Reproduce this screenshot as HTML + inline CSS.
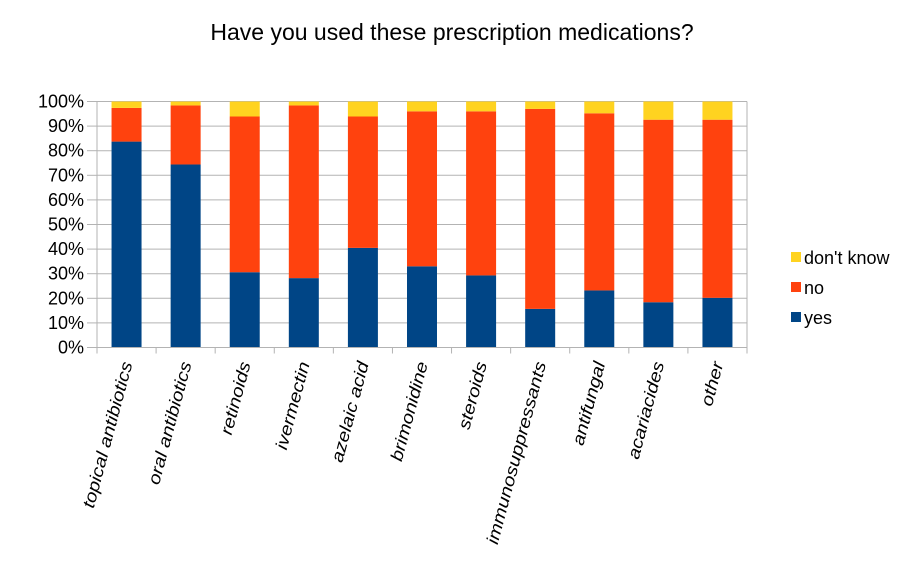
<!DOCTYPE html>
<html><head><meta charset="utf-8"><style>
body{margin:0;background:#fff;}
svg{display:block;font-family:"Liberation Sans",Arial,sans-serif;}
</style></head><body>
<svg id="chart" width="907" height="568">
<text x="452" y="40" text-anchor="middle" font-size="23" fill="#000">Have you used these prescription medications?</text>
<g id="grid"></g><g id="bars"></g><g id="axes"></g>
<g>
<rect x="791" y="252" width="10" height="10" fill="#ffd320"/>
<text x="804" y="264" font-size="18">don't know</text>
<rect x="791" y="282" width="10" height="10" fill="#ff420e"/>
<text x="804" y="294" font-size="18">no</text>
<rect x="791" y="312" width="10" height="10" fill="#004586"/>
<text x="804" y="324" font-size="18">yes</text>
</g>
</svg>
<script>
const categories=["topical antibiotics","oral antibiotics","retinoids","ivermectin","azelaic acid","brimonidine","steroids","immunosuppressants","antifungal","acariacides","other"];
const yesValues=[83.7,74.4,30.6,28.2,40.5,33,29.3,15.7,23.2,18.4,20.2];
const noValues=[13.7,24,63.3,70.2,53.4,63,66.7,81.3,72,74.2,72.4];
const dontKnowValues=[2.6,1.6,6.1,1.6,6.1,4,4,3,4.8,7.4,7.4];
const yTicks=[0,10,20,30,40,50,60,70,80,90,100];
const NS="http://www.w3.org/2000/svg";
const L=97,R=747,T=101.5,B=347.5;
const bw=(R-L)/categories.length;
function y(v){return B-(B-T)*v/100;}
function x(i){return L+bw*i;}
function mk(tag,attrs,parent){const e=document.createElementNS(NS,tag);for(const k in attrs)e.setAttribute(k,attrs[k]);parent.appendChild(e);return e;}
const grid=document.getElementById('grid'),bars=document.getElementById('bars'),axes=document.getElementById('axes');
yTicks.forEach(t=>{
 const l=mk('line',{x1:L,x2:R,y1:y(t),y2:y(t),stroke:'#b3b3b3','stroke-width':1},grid);
 
 
 const tx=mk('text',{x:L-13,y:y(t)+6,'text-anchor':'end','font-size':18},axes);
 tx.textContent=t+'%';
 
 
 const tk=mk('line',{x1:L-10,x2:L,y1:y(t),y2:y(t),stroke:'#b3b3b3'},axes);
 
 
});
mk('line',{x1:L,x2:L,y1:T,y2:B+6,stroke:'#b3b3b3'},axes);
mk('line',{x1:R,x2:R,y1:T,y2:B+6,stroke:'#b3b3b3'},axes);
mk('line',{x1:L,x2:R,y1:B,y2:B,stroke:'#b3b3b3'},axes);
categories.forEach((c,i)=>{
 const cx=x(i)+bw/2,w=30,bx=cx-w/2;
 const segs=[[0,yesValues[i],'#004586','yes'],[yesValues[i],yesValues[i]+noValues[i],'#ff420e','no'],[yesValues[i]+noValues[i],yesValues[i]+noValues[i]+dontKnowValues[i],'#ffd320','dont-know']];
 segs.forEach(s=>{
  const r=mk('rect',{x:bx,y:y(s[1]),width:w,height:y(s[0])-y(s[1]),fill:s[2]},bars);
  
  
 });
 const tk=mk('line',{x1:x(i+1),x2:x(i+1),y1:B,y2:B+6,stroke:'#b3b3b3'},axes);
 
 
 const lb=mk('text',{x:0,y:0,'text-anchor':'end','font-size':18,'font-style':'italic',transform:`translate(${cx+6},${B+16}) rotate(-75) scale(1.1,0.95)`},axes);
 lb.textContent=c;
 
 
});
</script>
</body></html>
